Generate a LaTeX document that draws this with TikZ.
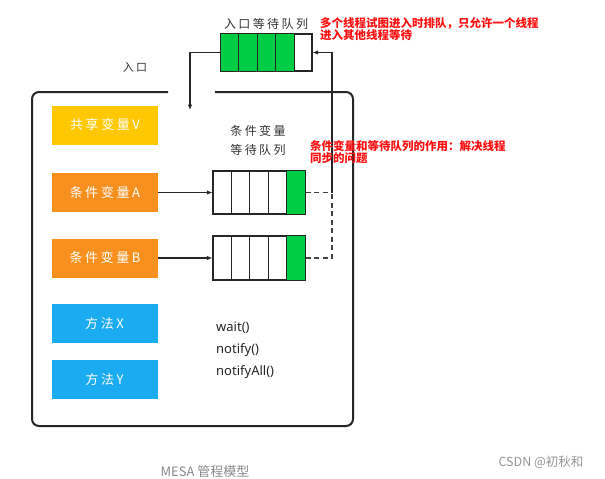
\documentclass[tikz,border=0pt]{standalone}
\usepackage{fontspec}
\setmainfont{Noto Sans CJK SC}
\newfontfamily\latinfont{Noto Sans}
\newfontfamily\handfont{Noto Sans CJK SC}[LetterSpace=20]
\usetikzlibrary{arrows.meta,calc}
\definecolor{qgreen}{HTML}{00CC44}
\definecolor{vyellow}{HTML}{FFC800}
\definecolor{vorange}{HTML}{F7901E}
\definecolor{mblue}{HTML}{1AABF0}
\definecolor{notered}{HTML}{FF1010}
\definecolor{capgray}{HTML}{8A8A8A}
\begin{document}
\begin{tikzpicture}[x=1pt,y=-1pt,
  varbox/.style={minimum width=106, minimum height=39, inner sep=0, text=white, font=\handfont\fontsize{13}{13}\selectfont},
  qbox/.style={draw=black!85, line width=1.1pt, fill=white, inner sep=0},
  arr/.style={draw=black!85, line width=1.1pt, -{Latex[length=5.5pt,width=4.5pt]}},
  dashline/.style={draw=black!75, line width=1.1pt, dash pattern=on 5pt off 3.5pt},
  note/.style={text=notered, font=\fontsize{11.5}{12.3}\selectfont\bfseries, align=left, inner sep=0, anchor=north west},
  lbl/.style={text=black!80, font=\handfont\fontsize{12}{19}\selectfont, align=center, inner sep=0}
]
\fill[white] (0,0) rectangle (605,479);
\useasboundingbox (0,0) rectangle (605,479);

% monitor frame with entrance gap
\draw[line width=2pt, black!85, rounded corners=7pt] (168,92) -- (32,92) -- (32,426) -- (353,426) -- (353,92) -- (215,92);

% variable and method boxes
\node[varbox, fill=vyellow] (V) at (105,125) {共享变量V};
\node[varbox, fill=vorange] (A) at (105,192.5) {条件变量A};
\node[varbox, fill=vorange] (B) at (105,258) {条件变量B};
\node[varbox, fill=mblue] (X) at (104.5,323.5) {方法X};
\node[varbox, fill=mblue] (Y) at (104.5,379.5) {方法Y};

% queues
\node[qbox, minimum width=91, minimum height=37] (tq) at (266.5,52.5) {};
\node[qbox, minimum width=92, minimum height=43] (qa) at (259,192.5) {};
\node[qbox, minimum width=92, minimum height=44] (qb) at (259,258) {};

\fill[qgreen] (tq.north west) rectangle ($(tq.south west)!4/5!(tq.south east)$);
\fill[qgreen] ($(qa.north west)!4/5!(qa.north east)$) rectangle (qa.south east);
\fill[qgreen] ($(qb.north west)!4/5!(qb.north east)$) rectangle (qb.south east);
\foreach \q in {tq,qa,qb}{
  \draw[black!85, line width=1.1pt] (\q.north west) rectangle (\q.south east);
  \foreach \k in {1,...,4}{
    \draw[black!85, line width=1.1pt] ($(\q.north west)!\k/5!(\q.north east)$) -- ($(\q.south west)!\k/5!(\q.south east)$);
  }
}

% connectors
\coordinate (entry) at (190,110);
\coordinate (join) at (332,192.5);
\draw[arr] (tq.west) -| (entry);
\draw[arr] (A.east) -- (qa.west);
\draw[arr] (B.east) -- (qb.west);
\draw[dashline] (qa.east) -- (join);
\draw[dashline] (qb.east) -| (join);
\draw[arr] (join) |- (tq.east);

% labels
\node[lbl] (tql) at (266,24) {入口等待队列};
\node[lbl, font=\handfont\fontsize{11}{11}\selectfont] (ent) at (135,67) {入口};
\node[lbl] (cql) at (258,140) {条件变量\\等待队列};
\node[inner sep=0, anchor=north west, align=left, text=black!85, font=\latinfont\fontsize{13}{22}\selectfont] (meth) at (216,322) {wait()\\notify()\\notifyAll()};

\node[note] (n1) at (320,17) {多个线程试图进入时排队，只允许一个线程\\进入其他线程等待};
\node[note] (n2) at (310,140) {条件变量和等待队列的作用：解决线程\\同步的问题};

\node[inner sep=0, text=capgray, font=\fontsize{13}{13}\selectfont] (cap) at (205,472) {MESA 管程模型};
\node[inner sep=0, text=capgray!90, font=\fontsize{12.5}{12.5}\selectfont] (csdn) at (541,462) {CSDN @初秋和};
\end{tikzpicture}
\end{document}
